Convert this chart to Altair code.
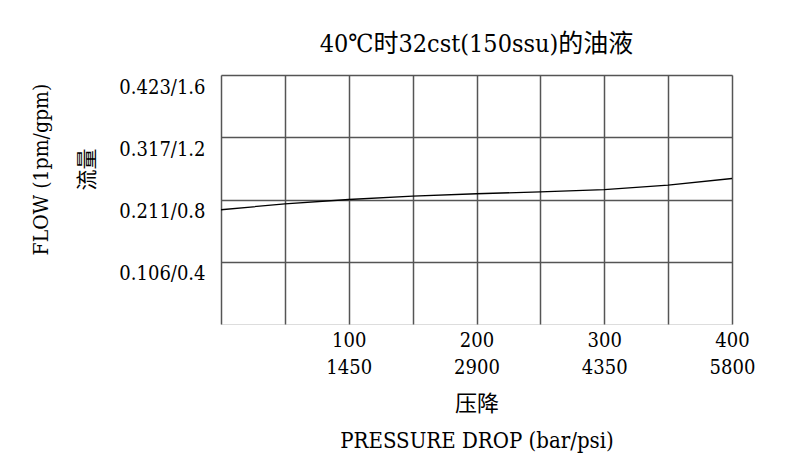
import altair as alt
import pandas as pd

# Data
pressure_bar = [0, 50, 100, 150, 200, 250, 300, 350, 400]
flow_gpm = [0.734, 0.772, 0.800, 0.822, 0.837, 0.849, 0.864, 0.892, 0.935]

y_ticks = [0.4, 0.8, 1.2, 1.6]
y_tick_labels = ["0.106/0.4", "0.211/0.8", "0.317/1.2", "0.423/1.6"]
x_ticks = [100, 200, 300, 400]
x_psi_labels = ["1450", "2900", "4350", "5800"]

df = pd.DataFrame({"bar": pressure_bar, "gpm": flow_gpm})

FONT = "DejaVu Serif Condensed, Noto Sans CJK SC"

ylab_expr = " : ".join(
    f"datum.value == {v} ? '{t}'" for v, t in zip(y_ticks, y_tick_labels)
) + " : ''"
xlab_expr = " : ".join(
    f"datum.value == {v} ? ['{v}', '{p}']" for v, p in zip(x_ticks, x_psi_labels)
) + " : ''"

chart = alt.Chart(df).mark_line(color="black", strokeWidth=1.3).encode(
    x=alt.X(
        "bar:Q",
        scale=alt.Scale(domain=[0, 400], nice=False),
        axis=alt.Axis(
            values=[0, 50, 100, 150, 200, 250, 300, 350, 400],
            labelExpr=xlab_expr,
            ticks=False,
            domain=False,
            grid=True,
            gridColor="#555555",
            gridWidth=1.5,
            labelFont=FONT,
            labelFontSize=20,
            labelColor="black",
            labelPadding=6,
            labelLineHeight=27,
            labelBaseline="top",
            labelFlush=False,
            title=["压降", "PRESSURE DROP (bar/psi)"],
            titleFont=FONT,
            titleFontSize=22,
            titleFontWeight="normal",
            titleColor="black",
            titleLineHeight=37,
            titlePadding=16,
        ),
    ),
    y=alt.Y(
        "gpm:Q",
        scale=alt.Scale(domain=[0, 1.6], nice=False),
        axis=alt.Axis(
            values=y_ticks,
            labelExpr=ylab_expr,
            ticks=False,
            domain=False,
            grid=True,
            gridColor="#555555",
            gridWidth=1.5,
            labelFont=FONT,
            labelFontSize=20,
            labelColor="black",
            labelBaseline="top",
            labelOffset=2,
            labelPadding=16,
            title=["FLOW (1pm/gpm)", "流量"],
            titleFont=FONT,
            titleFontSize=21,
            titleFontWeight="normal",
            titleColor="black",
            titleLineHeight=46,
            titleAlign="center",
            titleAnchor="middle",
            titleY=94,
            titlePadding=21,
        ),
    ),
).properties(
    width=511,
    height=249,
    autosize=alt.AutoSizeParams(type="none"),
    padding={"left": 213, "top": 67, "right": 50, "bottom": 140},
    title=alt.TitleParams(
        "40℃时32cst(150ssu)的油液",
        font=FONT,
        fontSize=25,
        fontWeight="normal",
        color="black",
        anchor="middle",
        offset=18,
    ),
).configure_view(
    stroke="#333333",
    strokeWidth=1.5,
).configure(background="white")

chart.save("out.html", embed_options={"renderer": "svg", "actions": False})
